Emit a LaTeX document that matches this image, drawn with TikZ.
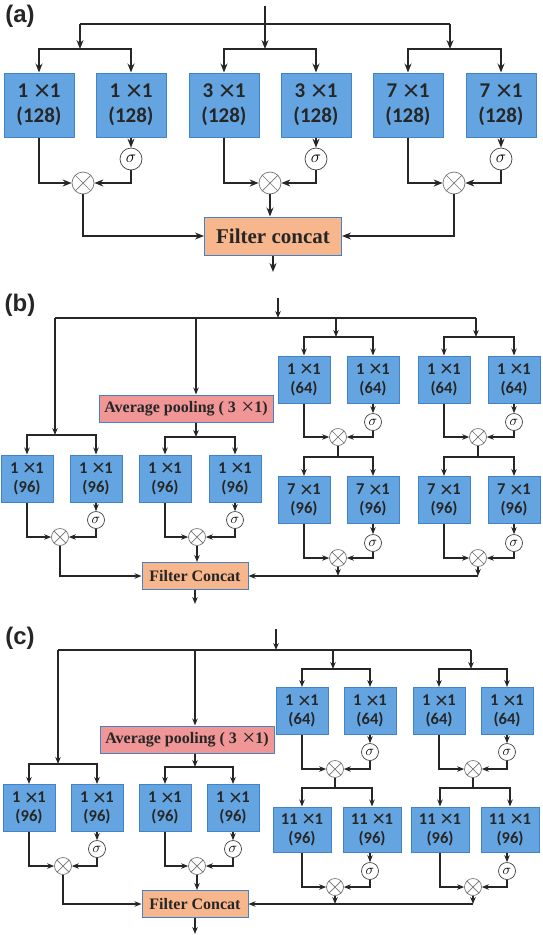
\documentclass[tikz,border=0pt]{standalone}
\usepackage{fontspec}
\usepackage{amsmath}
\usepackage{graphicx}
\usepackage{tikz}
\usetikzlibrary{positioning,arrows.meta}
\newfontfamily\boxfont{Carlito}
\newfontfamily\labelfont{Liberation Sans}
\newfontfamily\serffont{Liberation Serif}
\newcommand{\crossx}{\hspace{0.08em}\raisebox{-0.15em}{\scalebox{1.45}{\mdseries ×}}}
\definecolor{convfill}{RGB}{100,165,225}
\definecolor{convline}{RGB}{65,130,200}
\definecolor{poolfill}{RGB}{240,150,150}
\definecolor{catfill}{RGB}{248,182,140}
\tikzstyle{conv_a}=[rectangle, draw=convline, fill=convfill, line width=1pt, minimum width=70pt, minimum height=64pt, align=center, inner sep=0pt, text=black!85, font=\boxfont\bfseries\fontsize{21}{25}\selectfont]
\tikzstyle{conv_b}=[conv_a, minimum width=52pt, minimum height=47pt, font=\boxfont\bfseries\fontsize{16.5}{19}\selectfont]
\tikzstyle{conv_c}=[conv_b, minimum width=58pt, minimum height=45pt]
\tikzstyle{gate_a}=[circle, draw=black!75, fill=white, line width=0.7pt, minimum size=22pt, inner sep=0pt, font=\fontsize{19}{19}\selectfont]
\tikzstyle{gate_b}=[gate_a, minimum size=17pt, font=\fontsize{14}{14}\selectfont]
\tikzstyle{mult_a}=[circle, draw=black!55, fill=white, line width=0.7pt, minimum size=22pt, inner sep=0pt, path picture={\draw[black!55, line width=0.7pt] (path picture bounding box.north west) -- (path picture bounding box.south east) (path picture bounding box.north east) -- (path picture bounding box.south west);}]
\tikzstyle{mult_b}=[mult_a, minimum size=17pt]
\tikzstyle{concat_a}=[rectangle, draw=convline, fill=catfill, line width=1pt, minimum width=137pt, minimum height=38pt, inner sep=0pt, text=black!85, font=\serffont\bfseries\fontsize{21}{24}\selectfont]
\tikzstyle{concat_b}=[concat_a, minimum width=106pt, minimum height=27pt, font=\serffont\bfseries\fontsize{16}{18}\selectfont]
\tikzstyle{pool}=[rectangle, draw=convline, fill=poolfill, line width=1pt, minimum width=174pt, minimum height=27pt, inner sep=0pt, text=black!85, font=\serffont\bfseries\fontsize{16}{19}\selectfont]
\tikzstyle{flow_a}=[-{Stealth[length=9pt,width=7pt]}, line width=1.4pt, draw=black!85]
\tikzstyle{wire_a}=[-, line width=1.4pt, draw=black!85]
\tikzstyle{flow_b}=[-{Stealth[length=7pt,width=5.5pt]}, line width=1.1pt, draw=black!85]
\tikzstyle{wire_b}=[-, line width=1.1pt, draw=black!85]
\tikzstyle{panel}=[font=\labelfont\bfseries\fontsize{24}{24}\selectfont, text=black!85]

\begin{document}
\begin{tikzpicture}[x=1pt,y=-1pt]
        \useasboundingbox (0,0) rectangle (542,935);
        % (a)
        \node [panel] (la) at (20,16) {(a)};
        \coordinate (ain) at (265,6);
        \coordinate (abl) at (80,24);
        \coordinate (abr) at (450,24);
        \coordinate (as1) at (80,49);
        \coordinate (as2) at (265,49);
        \coordinate (as3) at (450,49);
        \node [conv_a] (a1) at (39,105) {1 \crossx1\\(128)};
        \node [conv_a] (a2) at (131,105) {1 \crossx1\\(128)};
        \node [conv_a] (a3) at (224,105) {3 \crossx1\\(128)};
        \node [conv_a] (a4) at (316,105) {3 \crossx1\\(128)};
        \node [conv_a] (a5) at (408,105) {7 \crossx1\\(128)};
        \node [conv_a] (a6) at (501,105) {7 \crossx1\\(128)};
        \node [gate_a] (ag1) at (131,159) {$\sigma$};
        \node [gate_a] (ag2) at (316,159) {$\sigma$};
        \node [gate_a] (ag3) at (501,159) {$\sigma$};
        \node [mult_a] (am1) at (83,183) {};
        \node [mult_a] (am2) at (270,183) {};
        \node [mult_a] (am3) at (454,183) {};
        \node [concat_a] (afc) at (273,236) {Filter concat};
        \coordinate (aout) at (273,272);
        \draw[style={wire_a}] (abl) -- (abr);
        \draw[style={flow_a}] (abl) -- (as1);
        \draw[style={flow_a}] (ain) -- (as2);
        \draw[style={flow_a}] (abr) -- (as3);
        \draw[style={flow_a}] (as1) -| (a1);
        \draw[style={flow_a}] (as1) -| (a2);
        \draw[style={flow_a}] (as2) -| (a3);
        \draw[style={flow_a}] (as2) -| (a4);
        \draw[style={flow_a}] (as3) -| (a5);
        \draw[style={flow_a}] (as3) -| (a6);
        \draw[style={flow_a}] (a2) -- (ag1);
        \draw[style={flow_a}] (a4) -- (ag2);
        \draw[style={flow_a}] (a6) -- (ag3);
        \draw[style={flow_a}] (a1) |- (am1);
        \draw[style={flow_a}] (ag1) |- (am1);
        \draw[style={flow_a}] (a3) |- (am2);
        \draw[style={flow_a}] (ag2) |- (am2);
        \draw[style={flow_a}] (a5) |- (am3);
        \draw[style={flow_a}] (ag3) |- (am3);
        \draw[style={flow_a}] (am1) |- (afc);
        \draw[style={flow_a}] (am2) -- (am2 |- afc.north);
        \draw[style={flow_a}] (am3) |- (afc);
        \draw[style={flow_a}] (afc) -- (aout);
        % (b)
        \node [panel] (lb) at (20,305) {(b)};
        \coordinate (bin) at (278,298);
        \coordinate (bbi) at (278,318);
        \coordinate (bbl) at (55,318);
        \coordinate (bbm) at (196,318);
        \coordinate (bbr1) at (336,318);
        \coordinate (bbr2) at (476,318);
        \coordinate (bs1) at (55,435);
        \coordinate (bs2) at (196,437);
        \coordinate (bs3) at (336,337);
        \coordinate (bs4) at (476,337);
        \coordinate (bs5) at (338,457);
        \coordinate (bs6) at (478,457);
        \node [pool] (bap) at (186,408.5) {Average pooling ( 3 \crossx1)};
        \node [conv_b] (b1) at (27,478.5) {1 \crossx1\\(96)};
        \node [conv_b] (b2) at (96,478.5) {1 \crossx1\\(96)};
        \node [conv_b] (b3) at (165,478.5) {1 \crossx1\\(96)};
        \node [conv_b] (b4) at (235,478.5) {1 \crossx1\\(96)};
        \node [conv_b] (b5) at (304,379.5) {1 \crossx1\\(64)};
        \node [conv_b] (b6) at (373,379.5) {1 \crossx1\\(64)};
        \node [conv_b] (b7) at (444,379.5) {1 \crossx1\\(64)};
        \node [conv_b] (b8) at (514,379.5) {1 \crossx1\\(64)};
        \node [conv_b] (b9) at (304,500) {7 \crossx1\\(96)};
        \node [conv_b] (b10) at (373,500) {7 \crossx1\\(96)};
        \node [conv_b] (b11) at (444,500) {7 \crossx1\\(96)};
        \node [conv_b] (b12) at (514,500) {7 \crossx1\\(96)};
        \node [gate_b] (bg1) at (96,520) {$\sigma$};
        \node [gate_b] (bg2) at (235,520) {$\sigma$};
        \node [gate_b] (bg3) at (373,422) {$\sigma$};
        \node [gate_b] (bg4) at (514,422) {$\sigma$};
        \node [gate_b] (bg5) at (373,543) {$\sigma$};
        \node [gate_b] (bg6) at (514,543) {$\sigma$};
        \node [mult_b] (bm1) at (60,537) {};
        \node [mult_b] (bm2) at (197,537) {};
        \node [mult_b] (bm3) at (338,437) {};
        \node [mult_b] (bm4) at (478,437) {};
        \node [mult_b] (bm5) at (338,558) {};
        \node [mult_b] (bm6) at (478,558) {};
        \node [concat_b] (bfc) at (195,576) {Filter Concat};
        \coordinate (bj1) at (338,576);
        \coordinate (bj2) at (478,576);
        \coordinate (bout) at (195,604);
        \draw[style={wire_b}] (bbl) -- (bbr2);
        \draw[style={flow_b}] (bin) -- (bbi);
        \draw[style={flow_b}] (bbl) -- (bs1);
        \draw[style={flow_b}] (bbm) -- (bbm |- bap.north);
        \draw[style={flow_b}] (bbm |- bap.south) -- (bs2);
        \draw[style={flow_b}] (bbr1) -- (bs3);
        \draw[style={flow_b}] (bbr2) -- (bs4);
        \draw[style={flow_b}] (bs1) -| (b1);
        \draw[style={flow_b}] (bs1) -| (b2);
        \draw[style={flow_b}] (bs2) -| (b3);
        \draw[style={flow_b}] (bs2) -| (b4);
        \draw[style={flow_b}] (bs3) -| (b5);
        \draw[style={flow_b}] (bs3) -| (b6);
        \draw[style={flow_b}] (bs4) -| (b7);
        \draw[style={flow_b}] (bs4) -| (b8);
        \draw[style={flow_b}] (b2) -- (bg1);
        \draw[style={flow_b}] (b4) -- (bg2);
        \draw[style={flow_b}] (b6) -- (bg3);
        \draw[style={flow_b}] (b8) -- (bg4);
        \draw[style={flow_b}] (b10) -- (bg5);
        \draw[style={flow_b}] (b12) -- (bg6);
        \draw[style={flow_b}] (b1) |- (bm1);
        \draw[style={flow_b}] (bg1) |- (bm1);
        \draw[style={flow_b}] (b3) |- (bm2);
        \draw[style={flow_b}] (bg2) |- (bm2);
        \draw[style={flow_b}] (b5) |- (bm3);
        \draw[style={flow_b}] (bg3) |- (bm3);
        \draw[style={flow_b}] (b7) |- (bm4);
        \draw[style={flow_b}] (bg4) |- (bm4);
        \draw[style={flow_b}] (b9) |- (bm5);
        \draw[style={flow_b}] (bg5) |- (bm5);
        \draw[style={flow_b}] (b11) |- (bm6);
        \draw[style={flow_b}] (bg6) |- (bm6);
        \draw[style={wire_b}] (bm3) -- (bs5);
        \draw[style={wire_b}] (bm4) -- (bs6);
        \draw[style={flow_b}] (bs5) -| (b9);
        \draw[style={flow_b}] (bs5) -| (b10);
        \draw[style={flow_b}] (bs6) -| (b11);
        \draw[style={flow_b}] (bs6) -| (b12);
        \draw[style={flow_b}] (bm1) |- (bfc);
        \draw[style={flow_b}] (bm2) -- (bm2 |- bfc.north);
        \draw[style={flow_b}] (bm5) -- (bj1);
        \draw[style={flow_b}] (bm6) -- (bj2);
        \draw[style={flow_b}] (bj2) -- (bfc);
        \draw[style={flow_b}] (bfc) -- (bout);
        % (c)
        \node [panel] (lc) at (20,638) {(c)};
        \coordinate (cin) at (276,629);
        \coordinate (cbi) at (276,650);
        \coordinate (cbl) at (58,650);
        \coordinate (cbm) at (195,650);
        \coordinate (cbr1) at (333,650);
        \coordinate (cbr2) at (471,650);
        \coordinate (cs1) at (58,764);
        \coordinate (cs2) at (195,767);
        \coordinate (cs3) at (333,669);
        \coordinate (cs4) at (471,669);
        \coordinate (cs5) at (335,788);
        \coordinate (cs6) at (473,788);
        \node [pool] (cap) at (187,739.5) {Average pooling ( 3 \crossx1)};
        \node [conv_b] (c1) at (29,808) {1 \crossx1\\(96)};
        \node [conv_b] (c2) at (97,808) {1 \crossx1\\(96)};
        \node [conv_b] (c3) at (165,808) {1 \crossx1\\(96)};
        \node [conv_b] (c4) at (233,808) {1 \crossx1\\(96)};
        \node [conv_b] (c5) at (302,711) {1 \crossx1\\(64)};
        \node [conv_b] (c6) at (370,711) {1 \crossx1\\(64)};
        \node [conv_b] (c7) at (439,711) {1 \crossx1\\(64)};
        \node [conv_b] (c8) at (507,711) {1 \crossx1\\(64)};
        \node [conv_c] (c9) at (302,829.5) {11 \crossx1\\(96)};
        \node [conv_c] (c10) at (372,829.5) {11 \crossx1\\(96)};
        \node [conv_c] (c11) at (440,829.5) {11 \crossx1\\(96)};
        \node [conv_c] (c12) at (510,829.5) {11 \crossx1\\(96)};
        \node [gate_b] (cg1) at (97,849) {$\sigma$};
        \node [gate_b] (cg2) at (233,849) {$\sigma$};
        \node [gate_b] (cg3) at (370,752) {$\sigma$};
        \node [gate_b] (cg4) at (507,752) {$\sigma$};
        \node [gate_b] (cg5) at (370,871) {$\sigma$};
        \node [gate_b] (cg6) at (507,871) {$\sigma$};
        \node [mult_b] (cm1) at (63,866) {};
        \node [mult_b] (cm2) at (197,866) {};
        \node [mult_b] (cm3) at (335,769) {};
        \node [mult_b] (cm4) at (473,769) {};
        \node [mult_b] (cm5) at (335,887) {};
        \node [mult_b] (cm6) at (473,887) {};
        \node [concat_b] (cfc) at (195,904) {Filter Concat};
        \coordinate (cj1) at (335,904);
        \coordinate (cj2) at (473,904);
        \coordinate (cout) at (195,934);
        \draw[style={wire_b}] (cbl) -- (cbr2);
        \draw[style={flow_b}] (cin) -- (cbi);
        \draw[style={flow_b}] (cbl) -- (cs1);
        \draw[style={flow_b}] (cbm) -- (cbm |- cap.north);
        \draw[style={flow_b}] (cbm |- cap.south) -- (cs2);
        \draw[style={flow_b}] (cbr1) -- (cs3);
        \draw[style={flow_b}] (cbr2) -- (cs4);
        \draw[style={flow_b}] (cs1) -| (c1);
        \draw[style={flow_b}] (cs1) -| (c2);
        \draw[style={flow_b}] (cs2) -| (c3);
        \draw[style={flow_b}] (cs2) -| (c4);
        \draw[style={flow_b}] (cs3) -| (c5);
        \draw[style={flow_b}] (cs3) -| (c6);
        \draw[style={flow_b}] (cs4) -| (c7);
        \draw[style={flow_b}] (cs4) -| (c8);
        \draw[style={flow_b}] (c2) -- (cg1);
        \draw[style={flow_b}] (c4) -- (cg2);
        \draw[style={flow_b}] (c6) -- (cg3);
        \draw[style={flow_b}] (c8) -- (cg4);
        \draw[style={flow_b}] (cg5 |- c10.south) -- (cg5);
        \draw[style={flow_b}] (cg6 |- c12.south) -- (cg6);
        \draw[style={flow_b}] (c1) |- (cm1);
        \draw[style={flow_b}] (cg1) |- (cm1);
        \draw[style={flow_b}] (c3) |- (cm2);
        \draw[style={flow_b}] (cg2) |- (cm2);
        \draw[style={flow_b}] (c5) |- (cm3);
        \draw[style={flow_b}] (cg3) |- (cm3);
        \draw[style={flow_b}] (c7) |- (cm4);
        \draw[style={flow_b}] (cg4) |- (cm4);
        \draw[style={flow_b}] (c9) |- (cm5);
        \draw[style={flow_b}] (cg5) |- (cm5);
        \draw[style={flow_b}] (c11) |- (cm6);
        \draw[style={flow_b}] (cg6) |- (cm6);
        \draw[style={wire_b}] (cm3) -- (cs5);
        \draw[style={wire_b}] (cm4) -- (cs6);
        \draw[style={flow_b}] (cs5) -| (c9);
        \draw[style={flow_b}] (cs5) -| (c10);
        \draw[style={flow_b}] (cs6) -| (c11);
        \draw[style={flow_b}] (cs6) -| (c12);
        \draw[style={flow_b}] (cm1) |- (cfc);
        \draw[style={flow_b}] (cm2) -- (cm2 |- cfc.north);
        \draw[style={flow_b}] (cm5) -- (cj1);
        \draw[style={flow_b}] (cm6) -- (cj2);
        \draw[style={flow_b}] (cj2) -- (cfc);
        \draw[style={flow_b}] (cfc) -- (cout);
    \end{tikzpicture}
\end{document}
